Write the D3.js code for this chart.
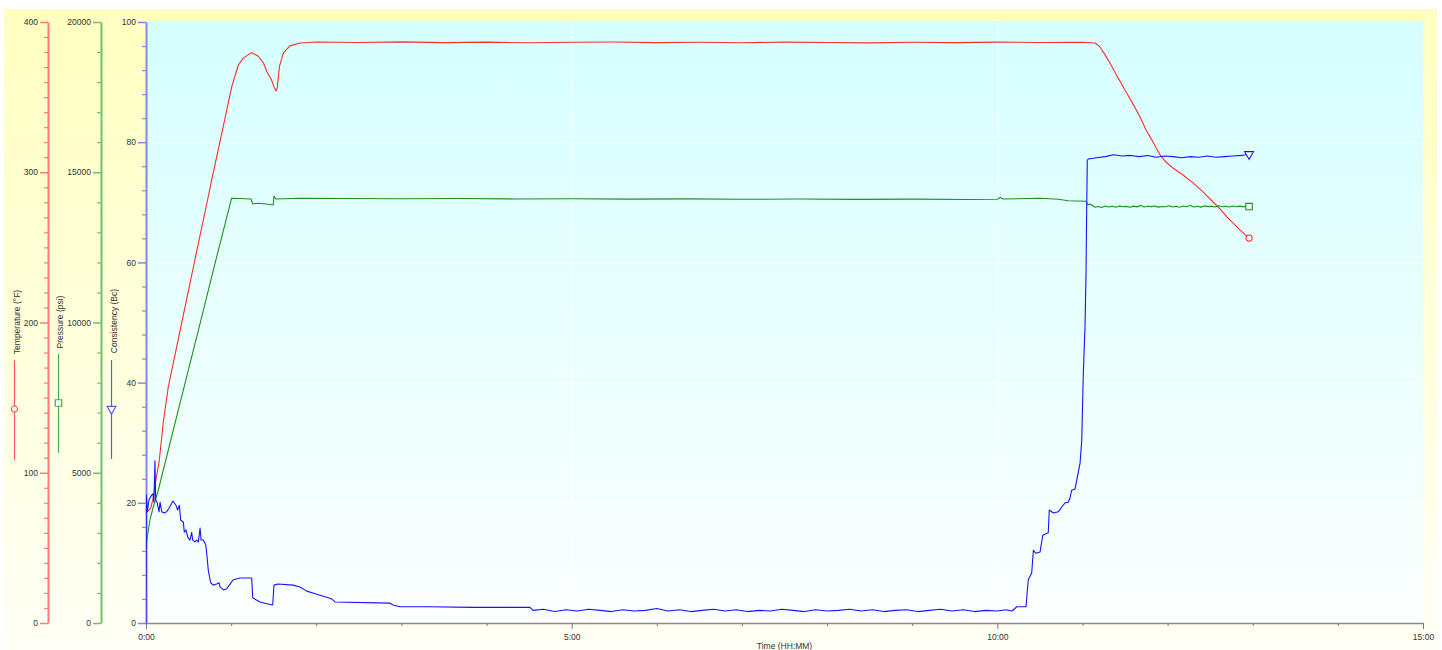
<!DOCTYPE html>
<html>
<head>
<meta charset="utf-8">
<script src="https://cdn.jsdelivr.net/npm/d3@7/dist/d3.min.js"></script>
<style>
  html, body { margin: 0; padding: 0; background: #ffffff; }
  svg { display: block; }
  text { font-family: "Liberation Sans", Arial, sans-serif; }
</style>
</head>
<body>
<svg id="chart" width="1442" height="650"></svg>
<script>
// ---------------- DATA (time in minutes) ----------------
const tempTime = [0, 1.4, 3.3, 5.1, 7.0, 9.4, 12.2, 15.7, 19.7, 25.6, 30.0, 34.0, 37.4, 43.1, 46.3, 49.8, 55.7, 60.4, 65.1, 68.7, 74.4, 78.9, 82.8, 85.3, 88.5, 90.2, 91.6, 92.5, 94.0, 96.8, 101.5, 108.5, 120.3, 150, 180, 210, 240, 270, 300, 330, 360, 390, 420, 450, 480, 510, 540, 570, 600, 630, 660, 668.9, 672.4, 675.9, 679.4, 685.1, 690.0, 695.6, 700.6, 704.8, 709.7, 714.7, 718.9, 723.8, 730.9, 737.9, 745.0, 752.0, 757.0, 761.9, 766.2, 771.1, 777.4];
const tempValue = [73.9, 74.5, 76.5, 83.2, 95.2, 108.5, 133.8, 157.1, 175.1, 201.7, 221.6, 239.6, 254.9, 280.2, 294.9, 310.2, 336.1, 356.8, 371.4, 376.1, 379.6, 377.4, 372.7, 366.7, 361.4, 356.8, 354.1, 356.1, 370.1, 379.4, 384.1, 386.0, 386.7, 386.4, 386.8, 386.3, 386.6, 386.2, 386.5, 386.7, 386.3, 386.5, 386.2, 386.6, 386.4, 386.1, 386.5, 386.3, 386.6, 386.4, 386.5, 386.0, 383.4, 378.1, 372.7, 362.8, 354.8, 345.5, 336.8, 328.1, 320.2, 311.5, 306.8, 302.8, 298.2, 292.9, 286.9, 280.2, 275.6, 270.2, 266.2, 261.5, 256.2];

const pressTime = [0, 0.9, 2.8, 5.1, 8.7, 21.6, 38.1, 49.8, 60.3, 66.3, 74.0, 75.2, 79.1, 84.6, 89.7, 90.2, 91.6, 108.5, 140, 180, 220, 260, 300, 340, 380, 420, 460, 500, 540, 580, 600, 602, 604, 630, 643, 650, 662.5, 663.9, 665.3, 668.9, 671, 673.5, 676, 678.5, 681, 683.5, 686, 688.5, 691, 693.5, 696, 698.5, 701, 703.5, 706, 708.5, 711, 713.5, 716, 718.5, 721, 723.5, 726, 728.5, 731, 733.5, 736, 738.5, 741, 743.5, 746, 748.5, 751, 753.5, 756, 758.5, 761, 763.5, 766, 768.5, 771, 773.5, 776, 777.4];
const pressValue = [2496, 2862, 3428, 3860, 4426, 6869, 9964, 12180, 14134, 14127, 14111, 13944, 13968, 13944, 13911, 14211, 14111, 14134, 14125, 14118, 14128, 14112, 14120, 14105, 14115, 14100, 14110, 14098, 14105, 14095, 14101, 14160, 14110, 14134, 14101, 14054, 14034, 13911, 13944, 13835, 13860, 13830, 13875, 13845, 13870, 13838, 13880, 13850, 13865, 13835, 13872, 13848, 13890, 13842, 13868, 13855, 13878, 13840, 13862, 13850, 13885, 13846, 13870, 13838, 13876, 13852, 13892, 13845, 13866, 13840, 13880, 13855, 13870, 13842, 13885, 13850, 13868, 13845, 13878, 13852, 13872, 13848, 13882, 13858, 13878];

const consTime = [0, 0.2, 0.9, 2.1, 4.0, 4.9, 5.6, 6.3, 6.8, 7.8, 9.2, 9.9, 11.1, 12.7, 14.6, 16.2, 19.0, 21.1, 22.3, 23.5, 24.5, 26.3, 27.0, 28.2, 29.4, 31.0, 32.2, 32.9, 34.5, 35.7, 36.9, 38.1, 38.8, 40.4, 42.1, 42.8, 43.9, 45.6, 47.4, 49.8, 51.5, 52.2, 54.5, 56.9, 58.7, 61.5, 66.3, 74.5, 75.2, 80.3, 85.1, 89.3, 90.2, 93.0, 103.6, 108.5, 113.3, 120.3, 127.4, 130.9, 133.2, 172.0, 174.1, 179.0, 200, 230, 270.6,
  272.8, 280, 288, 296, 304, 312, 320, 328, 336, 344, 352, 360, 368, 376, 384, 392, 400, 408, 416, 424, 432, 440, 448, 456, 464, 472, 480, 488, 496, 504, 512, 520, 528, 536, 544, 552, 560, 568, 576, 584, 592, 600, 606, 610.4,
  613.7, 620.2, 621.8, 624.2, 625.4, 627.3, 630.1, 632.0, 635.9, 636.6, 639.5, 643.0, 645.4, 647.7, 650.0, 651.2, 652.4, 654.8, 656.4, 658.3, 659.5, 660.6, 661.8, 662.5, 663.0, 663.4,
  664.1, 670, 676, 682, 688, 694, 700, 706, 712, 718, 724, 730, 736, 742, 748, 754, 760, 766, 772, 777.4];
const consValue = [0, 21.3, 18.5, 20.5, 21.3, 21.5, 20.1, 27.0, 20.5, 20.1, 18.5, 20.1, 18.5, 18.3, 18.5, 19.1, 20.3, 19.6, 18.8, 19.6, 17.1, 16.8, 15.1, 15.5, 14.3, 13.8, 15.1, 13.8, 13.5, 13.8, 13.5, 15.8, 13.8, 13.8, 13.0, 11.6, 8.8, 6.7, 6.3, 6.5, 6.7, 6.0, 5.5, 5.7, 6.3, 7.2, 7.5, 7.5, 4.2, 3.5, 3.2, 3.0, 6.3, 6.5, 6.3, 6.0, 5.3, 4.8, 4.3, 4.0, 3.5, 3.3, 3.0, 2.7, 2.7, 2.6, 2.6,
  2.1, 2.3, 1.9, 2.2, 2.0, 2.3, 2.1, 1.9, 2.2, 2.0, 2.1, 2.4, 2.0, 2.2, 1.9, 2.1, 2.3, 2.0, 2.2, 1.9, 2.1, 2.0, 2.3, 2.1, 1.9, 2.2, 2.0, 2.1, 2.3, 2.0, 2.2, 1.9, 2.1, 2.2, 1.9, 2.1, 2.3, 2.0, 2.2, 1.9, 2.1, 2.0, 2.2, 2.0,
  2.7, 2.7, 7.2, 8.3, 12.1, 11.6, 11.8, 14.6, 15.0, 18.8, 18.3, 18.5, 19.3, 20.0, 20.1, 20.8, 22.1, 22.3, 24.3, 26.6, 30.4, 41.6, 49.3, 58.2, 69.2, 77.0,
  77.2, 77.4, 77.6, 77.9, 77.7, 77.8, 77.6, 77.8, 77.5, 77.7, 77.6, 77.4, 77.6, 77.5, 77.7, 77.5, 77.6, 77.7, 77.8, 78.0];

const tempTicks = [0, 100, 200, 300, 400];
const pressTicks = [0, 5000, 10000, 15000, 20000];
const consTicks = [0, 20, 40, 60, 80, 100];
const timeTicks = [0, 300, 600, 900];
const timeLabels = ["0:00", "5:00", "10:00", "15:00"];
const axisTitles = ["Temperature (°F)", "Pressure (psi)", "Consistency (Bc)"];
const xTitle = "Time (HH:MM)";

// ---------------- LAYOUT ----------------
const svg = d3.select("#chart");
const L = 146, R = 1423, T = 22, B = 623;
const FONT = 8.5;

const defs = svg.append("defs");
const g1 = defs.append("linearGradient").attr("id", "outerBg").attr("x1", 0).attr("y1", 0).attr("x2", 0).attr("y2", 1);
g1.append("stop").attr("offset", "0%").attr("stop-color", "#ffffc0");
g1.append("stop").attr("offset", "100%").attr("stop-color", "#fffff6");
const g2 = defs.append("linearGradient").attr("id", "plotBg").attr("x1", 0).attr("y1", 0).attr("x2", 0).attr("y2", 1);
g2.append("stop").attr("offset", "0%").attr("stop-color", "#d6ffff");
g2.append("stop").attr("offset", "100%").attr("stop-color", "#fbfffe");
defs.append("clipPath").attr("id", "plotClip").append("rect")
  .attr("x", L).attr("y", T - 4).attr("width", R - L).attr("height", B - T + 4);

svg.append("rect").attr("x", 4).attr("y", 9).attr("width", 1433).attr("height", 641).attr("fill", "url(#outerBg)");
svg.append("rect").attr("x", L).attr("y", T - 1).attr("width", R - L).attr("height", B - T + 1).attr("fill", "url(#plotBg)");

// scales
const x = d3.scaleLinear().domain([0, 900]).range([L, R]);
const yT = d3.scaleLinear().domain([0, 400]).range([B, T]);
const yP = d3.scaleLinear().domain([0, 20000]).range([B, T]);
const yC = d3.scaleLinear().domain([0, 100]).range([B, T]);

// gridlines
const grid = svg.append("g");
grid.selectAll("line.h").data(consTicks.filter(d => d > 0 && d < 100)).join("line")
  .attr("x1", L).attr("x2", R).attr("y1", d => yC(d) + 0.5).attr("y2", d => yC(d) + 0.5)
  .attr("stroke", "#ffffff").attr("stroke-opacity", 0.75).attr("stroke-width", 1);
grid.selectAll("line.v").data(timeTicks.filter(d => d > 0 && d < 900)).join("line")
  .attr("x1", d => x(d) + 0.5).attr("x2", d => x(d) + 0.5).attr("y1", T).attr("y2", B)
  .attr("stroke", "#ffffff").attr("stroke-opacity", 0.75).attr("stroke-width", 1);

// y axes
function yAxis(scale, xPos, majors, minorStep, color, max) {
  const minors = d3.range(0, max + minorStep / 2, minorStep).filter(v => !majors.includes(v));
  const gm = svg.append("g").attr("transform", `translate(${xPos},0)`)
    .call(d3.axisLeft(scale).tickValues(minors).tickSize(4).tickFormat(""));
  gm.select(".domain").remove();
  gm.selectAll(".tick line").attr("stroke", color).attr("stroke-width", 1.2);
  const g = svg.append("g").attr("transform", `translate(${xPos},0)`)
    .call(d3.axisLeft(scale).tickValues(majors).tickSize(8).tickSizeOuter(0).tickPadding(2).tickFormat(d3.format("d")));
  g.select(".domain").attr("stroke", color).attr("stroke-width", 2);
  g.selectAll(".tick line").attr("stroke", color).attr("stroke-width", 1.5);
  g.selectAll(".tick text").attr("fill", "#333").style("font-size", FONT + "px");
}
yAxis(yT, 48, tempTicks, 10, "#ff7a7a", 400);
yAxis(yP, 101, pressTicks, 1000, "#72bf72", 20000);
yAxis(yC, L, consTicks, 4, "#8484ff", 100);

// x axis
const fmtTime = d => timeLabels[timeTicks.indexOf(d)];
const xm = svg.append("g").attr("transform", `translate(0,${B})`)
  .call(d3.axisBottom(x).tickValues(d3.range(60, 900, 60).filter(v => !timeTicks.includes(v))).tickSize(3).tickFormat(""));
xm.select(".domain").remove();
xm.selectAll(".tick line").attr("stroke", "#777");
const xa = svg.append("g").attr("transform", `translate(0,${B})`)
  .call(d3.axisBottom(x).tickValues(timeTicks).tickSize(6).tickSizeOuter(0).tickPadding(5).tickFormat(fmtTime));
xa.select(".domain").attr("stroke", "#8a8a8a").attr("stroke-width", 1.5);
xa.selectAll(".tick line").attr("stroke", "#777");
xa.selectAll(".tick text").attr("fill", "#333").style("font-size", FONT + "px");
svg.append("text").attr("x", (L + R) / 2).attr("y", 649).attr("text-anchor", "middle")
  .style("font-size", FONT + "px").attr("fill", "#333").text(xTitle);

// series
const series = [
  { time: tempTime, value: tempValue, y: yT, color: "#ff2b2b", key: "#ff5a5a", symbol: d3.symbolCircle, rot: 0, size: 30 },
  { time: pressTime, value: pressValue, y: yP, color: "#1f8f1f", key: "#4aa84a", symbol: d3.symbolSquare, rot: 0, size: 42 },
  { time: consTime, value: consValue, y: yC, color: "#1414ff", key: "#5a5aff", symbol: d3.symbolTriangle, rot: 180, size: 34 }
];

const lines = svg.append("g").attr("clip-path", "url(#plotClip)");
series.forEach(s => {
  const pts = s.time.map((t, i) => [t, s.value[i]]);
  lines.append("path").datum(pts)
    .attr("d", d3.line().x(d => x(d[0])).y(d => s.y(d[1])))
    .attr("fill", "none").attr("stroke", s.color).attr("stroke-width", 1.1).attr("stroke-linejoin", "round");
  const last = pts[pts.length - 1];
  svg.append("path").attr("d", d3.symbol().type(s.symbol).size(s.size)())
    .attr("transform", `translate(${x(last[0])},${s.y(last[1])}) rotate(${s.rot})`)
    .attr("fill", "#ffffff").attr("stroke", s.color).attr("stroke-width", 1.1);
});

// axis titles with legend keys
const legendPos = [
  { tx: 16.5, ty: 322, lx: 14.5, l1: 360, l2: 460, my: 409 },
  { tx: 60, ty: 322, lx: 58.5, l1: 354, l2: 453, my: 403 },
  { tx: 114, ty: 321, lx: 111.5, l1: 360, l2: 459, my: 409 }
];
series.forEach((s, i) => {
  const p = legendPos[i];
  svg.append("text").attr("transform", `translate(${p.tx},${p.ty}) rotate(-90)`)
    .attr("text-anchor", "middle").attr("dominant-baseline", "central")
    .style("font-size", FONT + "px").attr("fill", "#333").text(axisTitles[i]);
  svg.append("line").attr("x1", p.lx).attr("x2", p.lx).attr("y1", p.l1).attr("y2", p.l2)
    .attr("stroke", s.key).attr("stroke-width", 1.2);
  svg.append("path").attr("d", d3.symbol().type(s.symbol).size(s.size)())
    .attr("transform", `translate(${p.lx},${p.my}) rotate(${s.rot})`)
    .attr("fill", "#ffffff").attr("stroke", s.key).attr("stroke-width", 1.2);
});
</script>
</body>
</html>
